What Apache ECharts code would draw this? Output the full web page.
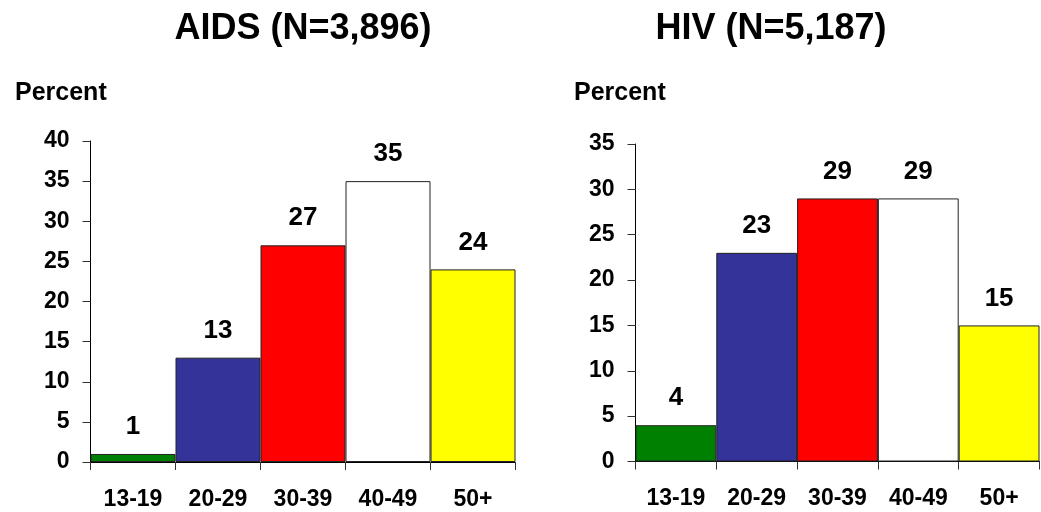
<!DOCTYPE html>
<html>
<head>
<meta charset="utf-8">
<script src="https://cdn.jsdelivr.net/npm/echarts@6/dist/echarts.min.js"></script>
<style>html,body{margin:0;padding:0;background:#fff}#c{width:1041px;height:512px}</style>
</head>
<body>
<div id="c"></div>
<script>
var categories = ['13-19', '20-29', '30-39', '40-49', '50+'];
var aidsValues = [1, 13, 27, 35, 24];
var hivValues = [4, 23, 29, 29, 15];
var barColors = ['#008000', '#333399', '#ff0000', '#ffffff', '#ffff00'];
var aidsTitle = 'AIDS (N=3,896)';
var hivTitle = 'HIV (N=5,187)';
var yLabel = 'Percent';

var FONT = 'Liberation Sans, Arial, sans-serif';
var chart = echarts.init(document.getElementById('c'), null, {renderer: 'canvas'});

function mkData(vals) {
  return vals.map(function (v, i) {
    return {value: v, itemStyle: {color: barColors[i]}};
  });
}
function xAxis(gi) {
  return {
    type: 'category', gridIndex: gi, data: categories,
    axisLine: {lineStyle: {color: '#000', width: 1}},
    axisTick: {show: true, length: 8, lineStyle: {color: '#333'}},
    axisLabel: {color: '#000', fontFamily: FONT, fontWeight: 'bold', fontSize: 23, margin: 26}
  };
}
function yAxis(gi, max) {
  return {
    type: 'value', gridIndex: gi, min: 0, max: max, interval: 5,
    axisLine: {show: true, lineStyle: {color: '#000', width: 1}},
    axisTick: {show: true, length: 8, lineStyle: {color: '#333'}},
    splitLine: {show: false},
    axisLabel: {color: '#000', fontFamily: FONT, fontWeight: 'bold', fontSize: 23, margin: 21}
  };
}
function series(gi, vals) {
  return {
    type: 'bar', xAxisIndex: gi, yAxisIndex: gi, data: mkData(vals),
    barWidth: '100%', barCategoryGap: 0,
    itemStyle: {borderColor: '#222', borderWidth: 1},
    label: {show: true, position: 'top', distance: 14, color: '#000',
      fontFamily: FONT, fontWeight: 'bold', fontSize: 26},
    animation: false
  };
}

chart.setOption({
  animation: false,
  backgroundColor: '#fff',
  title: [
    {text: aidsTitle, left: 298, top: 6, textAlign: 'center',
     textStyle: {fontFamily: FONT, fontWeight: 'bold', fontSize: 36, color: '#000'}},
    {text: hivTitle, left: 766, top: 6, textAlign: 'center',
     textStyle: {fontFamily: FONT, fontWeight: 'bold', fontSize: 36, color: '#000'}},
    {text: yLabel, left: 10, top: 76,
     textStyle: {fontFamily: FONT, fontWeight: 'bold', fontSize: 25, color: '#000'}},
    {text: yLabel, left: 569, top: 76,
     textStyle: {fontFamily: FONT, fontWeight: 'bold', fontSize: 25, color: '#000'}}
  ],
  grid: [
    {left: 90.5, top: 141, width: 425, height: 321},
    {left: 635.5, top: 144, width: 404, height: 317.5}
  ],
  xAxis: [xAxis(0), xAxis(1)],
  yAxis: [yAxis(0, 40), yAxis(1, 35)],
  series: [series(0, aidsValues), series(1, hivValues)]
});
</script>
</body>
</html>
